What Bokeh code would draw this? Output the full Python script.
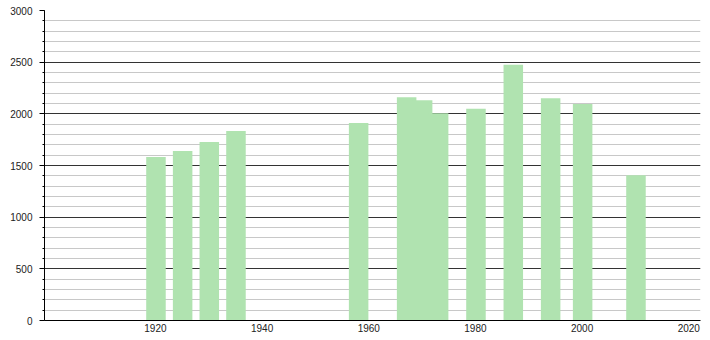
from bokeh.plotting import figure
from bokeh.models import ColumnDataSource, SingleIntervalTicker, FixedTicker, Range1d
from bokeh.transform import dodge
from bokeh.embed import file_html
from bokeh.resources import INLINE

years = [1921, 1926, 1931, 1936, 1959, 1968, 1971, 1974, 1981, 1988, 1995, 2001, 2011]
population = [1582, 1640, 1728, 1834, 1912, 2161, 2132, 2006, 2048, 2474, 2151, 2096, 1405]
x_ticks = [1920, 1940, 1960, 1980, 2000, 2020]

src = ColumnDataSource(dict(year=years, pop=population))

p = figure(width=710, height=340, output_backend="svg", toolbar_location=None,
           x_range=Range1d(1899.2, 2022.2), y_range=Range1d(0, 3000),
           min_border_left=44, min_border_right=10, min_border_top=10, min_border_bottom=20)
p.outline_line_color = None
p.background_fill_color = "white"
p.border_fill_color = "white"

p.vbar(x=dodge("year", -0.9, range=p.x_range), top="pop", width=3.66, bottom=0,
       source=src, fill_color="#b0e3b0", line_color=None)

# y axis
yt = SingleIntervalTicker(interval=500, num_minor_ticks=5)
p.yaxis.ticker = yt
p.ygrid.ticker = yt
p.ygrid.grid_line_color = "#333333"
p.ygrid.grid_line_width = 1
p.ygrid.minor_grid_line_color = "#c8c8c8"
p.ygrid.minor_grid_line_width = 1
p.ygrid.level = "underlay"
p.yaxis.axis_line_color = "black"
p.yaxis.major_tick_out = 5
p.yaxis.major_tick_in = 0
p.yaxis.minor_tick_out = 2
p.yaxis.minor_tick_in = 0
p.yaxis.major_tick_line_color = "black"
p.yaxis.minor_tick_line_color = "black"
p.yaxis.major_label_standoff = 7
p.yaxis.major_label_text_font = "Liberation Sans"
p.yaxis.major_label_text_font_size = "10px"
p.yaxis.major_label_text_color = "#222222"

# x axis
p.xaxis.ticker = FixedTicker(ticks=x_ticks)
p.xgrid.grid_line_color = None
p.xaxis.axis_line_color = "black"
p.xaxis.major_tick_out = 0
p.xaxis.major_tick_in = 0
p.xaxis.minor_tick_line_color = None
p.xaxis.major_label_standoff = 3
p.xaxis.major_label_text_font = "Liberation Sans"
p.xaxis.major_label_text_font_size = "10px"
p.xaxis.major_label_text_color = "#222222"

open("out.html", "w").write(file_html(p, INLINE))
